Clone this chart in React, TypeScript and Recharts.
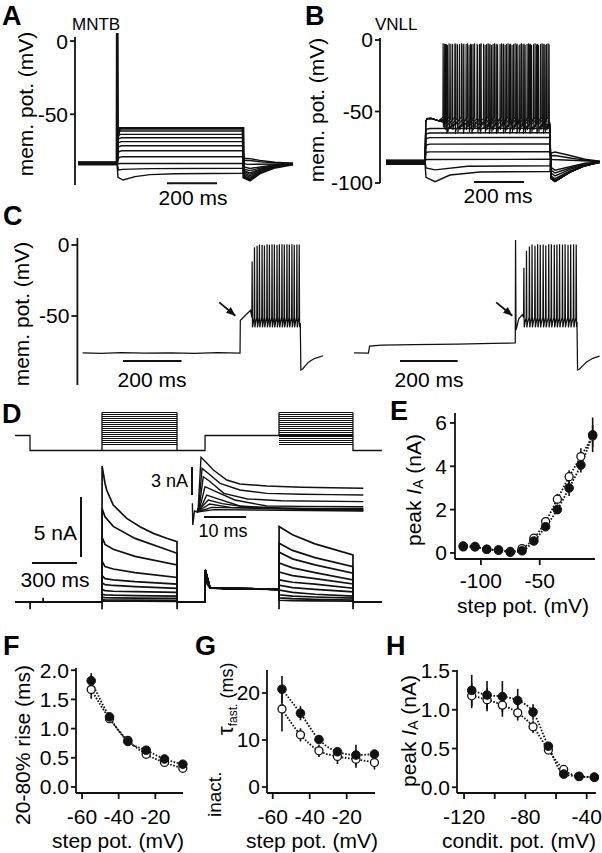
import React from 'react';
import { LineChart, Line, XAxis, YAxis, ReferenceLine, ErrorBar } from 'recharts';

const FONT = '"Liberation Sans", Arial, Helvetica, sans-serif';
const INK = '#111';

type Pt = number[];

// ---------------- Panel A (MNTB): [time ms, mV]
const mntbTraces: Pt[][] = [
  [[12,-83.0],[168,-83.0],[169,5.5],[170.5,-66],[178,-59.6],[672,-59.6],[675,-93],[700,-95],[740,-90],[800,-86.2],[872,-84]],
  [[12,-83.6],[168,-83.6],[172,-62.5],[182,-61.4],[672,-61.4],[675,-92],[700,-94],[740,-89.5],[800,-86],[872,-83.8]],
  [[12,-84.2],[168,-84.2],[172,-64.5],[182,-63.7],[672,-63.7],[675,-91],[700,-93],[740,-89],[800,-85.6],[872,-84.2]],
  [[12,-82.8],[168,-82.8],[173,-67],[185,-66],[672,-66],[675,-90],[700,-92],[740,-88.5],[800,-85.4],[872,-83.5]],
  [[12,-83.4],[168,-83.4],[173,-69.5],[185,-68.7],[672,-68.7],[675,-89],[700,-91],[740,-88],[800,-85.2],[872,-83.9]],
  [[12,-84.5],[168,-84.5],[174,-72.2],[186,-71.5],[672,-71.5],[675,-88.5],[700,-90],[740,-87.5],[800,-85],[872,-84.4]],
  [[12,-83.2],[168,-83.2],[175,-75.5],[188,-74.9],[672,-74.9],[676,-87.5],[700,-88.5],[740,-86.8],[800,-84.8],[872,-83.6]],
  [[12,-83.8],[168,-83.8],[176,-79.4],[190,-79],[672,-79],[676,-86],[700,-87],[740,-86],[800,-84.6],[872,-83.8]],
  [[12,-84.0],[168,-84.0],[180,-83.6],[672,-83.5],[690,-84.2],[872,-84]],
  [[12,-83.0],[168,-83.0],[174,-88],[190,-87.6],[300,-87.1],[672,-86.9],[676,-81.5],[700,-81.6],[740,-82.4],[800,-83.2],[872,-83.6]],
  [[12,-83.6],[168,-83.6],[172,-93],[192,-94.9],[240,-92.6],[300,-91.2],[400,-90.6],[672,-90.3],[676,-80],[700,-80.3],[740,-81.5],[800,-82.8],[872,-83.4]],
];
const mntbScaleBar: Pt[] = [[368,-97.1],[568,-97.1]];

// ---------------- Panel B (VNLL)
const vnllTraces: Pt[][] = [
  [[24,-86],[180,-86],[184,-96],[220,-99.1],[280,-94.4],[400,-92.3],[680,-92],[684,-79],[700,-78.3],[760,-80.8],[820,-83.4],[880,-84.8]],
  [[24,-85],[180,-85],[184,-89.5],[220,-90.8],[350,-88.3],[680,-87.9],[684,-81],[700,-80.8],[760,-82.5],[820,-84],[880,-85.2]],
  [[24,-84.4],[180,-84.4],[186,-83.6],[680,-83.4],[690,-83.6],[880,-85]],
  [[24,-87],[180,-87],[184,-78.5],[200,-78.2],[680,-78.1],[684,-89],[700,-91],[760,-88.6],[820,-86.2],[880,-85.4]],
  [[24,-85.6],[180,-85.6],[184,-73.5],[200,-72.8],[680,-72.7],[684,-91],[700,-93],[760,-89.5],[820,-86.6],[880,-85.6]],
  [[24,-84],[180,-84],[184,-69],[200,-68.3],[680,-68.1],[684,-93],[700,-95],[760,-90.5],[820,-87],[880,-85.1]],
  [[24,-86.5],[180,-86.5],[184,-65.6],[200,-65],[680,-64.8],[684,-95],[700,-97],[760,-91.5],[820,-87.4],[880,-85.8]],
  [[24,-85.3],[180,-85.3],[184,-62.4],[200,-61.9],[680,-61.7],[684,-96],[700,-98],[760,-92],[820,-87.8],[880,-85.3]],
];
const vnllSpikeTimes: number[][] = [
  [252,276,300,326,350,378,404,432,458,486,512,540,566,594,620,648,672],
  [262,290,318,344,372,398,426,452,480,506,534,560,588,614,642,666],
  [270,310,356,390,420,446,470,500,528,556,580,606,634,660],
  [257,283,308,335,362,388,414,440,468,494,522,548,576,602,630,656],
  [266,300,332,366,400,436,464,492,518,546,572,598,626,652,676],
];
const vnllSpikePeak = [-2.3, -2.8, -3.5, -2.6, -3.0];
const vnllSpikeTrough = [-58, -60, -61.5, -59, -62.5];
const vnllRest = [-85.8, -84.6, -86.2, -84.2, -86.8];
const vnllScaleBar: Pt[] = [[376,-99.3],[576,-99.3]];

// ---------------- Panel C
const cLeftPre: Pt[] = [[18,-76],[80,-76.3],[150,-75.8],[230,-76.2],[320,-75.9],[400,-76.3],[480,-75.8],[556,-76.1],[557,-53],[560,-52.5],[592,-46]];
const cLeftSpikeTimes = [597,605,614,622,631,639,648,656,665,673,682,690,699,707,716,724,733,741,750,758];
const cLeftSpikePeaks = [-11.7,-1.5,-0.5,0.3,0,-0.4,0.5,0.2,0.6,0.4,0,0.5,0.6,0.3,0.5,0.4,0.6,0.2,0.4,0.3];
const cLeftPost: Pt[] = [[762,-55],[764,-88],[770,-87.3],[790,-82.5],[810,-80],[840,-78]];
const cRightPre: Pt[] = [[946,-76],[995,-76.2],[999,-71.2],[1040,-70.6],[1150,-70.2],[1300,-69.8],[1420,-69.3],[1497,-69],[1498,3.5],[1499.5,-60],[1509,-52],[1521,-49]];
const cRightSpikeTimes = [1526,1535,1545,1554,1564,1573,1582,1592,1601,1611,1620,1630,1639,1648,1658,1667,1677,1686,1696,1705];
const cRightSpikePeaks = [-16,-4,-1,0.3,-0.5,0.5,0.2,0.4,-0.3,0.5,0.6,0.2,0.4,0.5,0.3,0.6,0.2,0.4,0.5,0.3];
const cRightPost: Pt[] = [[1708,-55],[1710,-88],[1716,-87.5],[1740,-82.5],[1762,-79.8],[1785,-78.3]];
const cScaleBars: Pt[][] = [[[156,-81.7],[356,-81.7]], [[1103,-81.7],[1300,-81.7]]];
const cArrows: Pt[][] = [[[485,-40.4],[540,-49.8]], [[1432,-40.4],[1487,-49.8]]];

// ---------------- Panel D : protocol (mV), currents (nA)
const dStepLevels = [-85,-80,-75,-70,-65,-60,-55,-50,-45,-40,-35,-30,-25,-20,-15,-10,-5];
const dHold = -100;
const dCond = -62.5;
const dTimes = [0, 100, 580, 1080, 1267, 1760, 2253, 2446];
const dCurrentBig: Pt[] = [[0,0],[100,0],[100.5,-0.6],[101,0],[187,0],[187.5,0.35],[188,0],[580,0],[580.2,-0.6],[580.6,11.33],[600,9.9],[611,9.33],[655,8.08],[745,6.97],[833,6.28],[922,5.72],[1011,5.31],[1080,5.03],[1080.5,-0.6],[1082,0],[1267,0],[1268,2.67],[1280,1.5],[1300,1.17],[1400,1.08],[1760,1.06],[1760.3,-0.6],[1760.6,6.3],[1850,5.6],[2000,4.85],[2253,3.92],[2253.5,-0.6],[2255,0],[2446,0]];
// block 1 values at t = 580.6, 600, 655, 800, 1080 ; block 2 at 1760.6, 1850, 2000, 2253
const dBlock1: number[][] = [
  [7.8,7.1,6.3,5.3,4.06],[5.4,4.8,4.4,3.8,3.1],[3.4,2.95,2.75,2.45,2.05],[2.2,1.95,1.85,1.7,1.5],
  [1.6,1.45,1.38,1.28,1.14],[1.05,0.95,0.9,0.86,0.8],[0.65,0.6,0.57,0.54,0.5],[0.4,0.37,0.35,0.33,0.3],
  [0.2,0.18,0.17,0.16,0.15],[0.09,0.08,0.08,0.07,0.06],
];
const dBlock2: number[][] = [
  [4.9,4.3,3.7,2.95],[4.15,3.6,3.1,2.4],[3.25,2.85,2.45,1.85],[2.5,2.2,1.95,1.5],
  [1.85,1.65,1.5,1.15],[1.4,1.2,1.05,0.85],[1.0,0.8,0.65,0.5],[0.6,0.5,0.42,0.33],
  [0.35,0.28,0.22,0.17],[0.15,0.12,0.1,0.08],
];
const dScale5nA: Pt[] = [[440,3.75],[440,8.75]];
const dScale300ms: Pt[] = [[113,3.25],[413,3.25]];
// inset (ms, nA)
const insetTraces: Pt[][] = [
  [[0,0],[0.3,0.5],[0.95,5.86],[2,5.4],[3.9,4.5],[7.1,3.43],[10.2,3.0],[16.6,2.79],[25,2.65],[32,2.6],[39.6,2.54]],
  [[0,0],[0.4,0.5],[1.2,4.68],[2.5,4.2],[5.5,3.07],[10.2,2.36],[16.6,2.0],[25,1.9],[32,1.86],[39.6,1.82]],
  [[0,0],[0.5,0.4],[1.5,3.79],[3,3.3],[6.4,2.0],[12,1.4],[20,1.2],[39.6,1.11]],
  [[0,0],[0.6,0.3],[1.9,2.71],[4,2.3],[9,1.29],[16.6,0.64],[25,0.6],[39.6,0.57]],
  [[0,0],[0.7,0.2],[2.3,1.82],[5,1.4],[10.2,0.64],[20,0.42],[39.6,0.39]],
  [[0,0],[2.7,1.29],[6,0.9],[13,0.45],[39.6,0.29]],
  [[0,0],[3,0.86],[8,0.5],[39.6,0.21]],
  [[0,0],[3.5,0.5],[39.6,0.15]],
  [[0,0],[4,0.25],[39.6,0.1]],
  [[-1.1,0.93],[-1.0,-1.39],[-0.6,0.1],[0,0]],
];
const inset3nA: Pt[] = [[-1.19,1.82],[-1.19,4.82]];
const inset10ms: Pt[] = [[1.67,-0.54],[11.67,-0.54]];

// ---------------- Panel E
const eStep = [-115,-105,-95,-85,-75,-65,-55,-45,-35,-25,-15,-5];
const eFilled = [0.32,0.30,0.17,0.14,0.03,0.10,0.55,1.21,2.00,3.00,4.06,5.45];
const eFilledErr = [0.05,0.05,0.05,0.05,0.04,0.05,0.1,0.15,0.2,0.37,0.35,0.8];
const eOpen = [0.28,0.27,0.16,0.12,0.07,0.2,0.68,1.45,2.48,3.52,4.45,5.4];
const eOpenErr = [0.05,0.05,0.05,0.05,0.05,0.05,0.1,0.15,0.25,0.3,0.38,0.5];

// ---------------- Panel F
const fStep = [-55,-45,-35,-25,-15,-5];
const fFilled = [1.82,1.2,0.78,0.63,0.48,0.39];
const fFilledErr = [0.13,0.08,0.04,0.03,0.03,0.02];
const fOpen = [1.67,1.17,0.8,0.56,0.42,0.32];
const fOpenErr = [0.16,0.06,0.05,0.03,0.03,0.02];

// ---------------- Panel G
const gStep = [-55,-45,-35,-25,-15,-5];
const gFilled = [20.8,15.7,10.1,7.5,6.8,7.0];
const gFilledErr = [2.8,1.5,0.8,0.7,2.2,0.9];
const gOpen = [16.6,11.1,7.7,6.5,5.9,5.2];
const gOpenErr = [4.8,1.4,1.3,1.6,1.8,1.5];

// ---------------- Panel H
const hCond = [-115,-105,-95,-85,-75,-65,-55,-45,-35];
const hFilled = [1.25,1.19,1.17,1.12,0.97,0.53,0.17,0.14,0.13];
const hFilledErr = [0.2,0.18,0.2,0.15,0.1,0.04,0.03,0.03,0.03];
const hOpen = [1.18,1.13,1.06,0.96,0.78,0.48,0.23,0.14,0.13];
const hOpenErr = [0.16,0.15,0.15,0.1,0.08,0.04,0.03,0.03,0.03];

// ============ helpers ============
const obj = (pts: Pt[]) => pts.map(([t, v]) => ({ t, v }));

function spikeTrain(times: number[], peaks: number[], trough: number): Pt[] {
  const out: Pt[] = [];
  times.forEach((ts, i) => {
    out.push([ts - 0.6, trough + 4], [ts + 0.4, peaks[i]], [ts + 1.6, trough - 3], [ts + 4, trough]);
  });
  return out;
}

function lines(list: Pt[][], prefix: string, width = 1.2, widths?: number[], crisp = false) {
  return list.map((pts, i) => (
    <Line key={prefix + i} data={obj(pts)} dataKey="v" type="linear" stroke={INK}
      strokeWidth={widths && widths[i] != null ? widths[i] : width} dot={false} activeDot={false}
      shapeRendering={crisp ? 'crispEdges' : undefined}
      isAnimationActive={false} />
  ));
}

const tickStyle = { fontSize: 21, fill: '#000', fontFamily: FONT };
const axisStyle = { stroke: INK, strokeWidth: 1.8 };

const Box: React.FC<{ left: number; top: number; children: React.ReactNode }> = ({ left, top, children }) => (
  <div style={{ position: 'absolute', left, top, fontFamily: FONT }}>{children}</div>
);

// arrow head drawn at the end point of arrow series
const arrowDot = (p: any) => {
  if (p.index !== 1) return <g key={'a' + p.index} />;
  const ang = Math.atan2(13.4, 16.1);
  const L = 9, W = 3.8;
  const bx = p.cx - L * Math.cos(ang), by = p.cy - L * Math.sin(ang);
  const nx = -Math.sin(ang) * W, ny = Math.cos(ang) * W;
  return <polygon key={'a' + p.index} points={`${p.cx},${p.cy} ${bx + nx},${by + ny} ${bx - nx},${by - ny}`} fill={INK} />;
};

const filledDot = (p: any) => <circle key={'f' + p.index} cx={p.cx} cy={p.cy} r={4.3} fill={INK} stroke={INK} strokeWidth={1} />;
const openDot = (p: any) => <circle key={'o' + p.index} cx={p.cx} cy={p.cy} r={4} fill="#fff" stroke={INK} strokeWidth={1.3} />;

interface DotPanelProps {
  left: number; top: number; width: number; height: number;
  margin: { top: number; right: number; bottom: number; left: number };
  yWidth: number; xHeight: number;
  xDomain: number[]; yDomain: number[]; xTicks: number[]; yTicks: number[];
  xFmt?: (v: number) => string; yFmt?: (v: number) => string;
  xs: number[]; filled: number[]; filledErr: number[]; open: number[]; openErr: number[];
  xTickMargin: number; yTickMargin: number;
}

function DotPanel(p: DotPanelProps) {
  const fd = p.xs.map((x, i) => ({ t: x, v: p.filled[i], e: p.filledErr[i] }));
  const od = p.xs.map((x, i) => ({ t: x, v: p.open[i], e: p.openErr[i] }));
  return (
    <Box left={p.left} top={p.top}>
      <LineChart width={p.width} height={p.height} margin={p.margin}>
        <XAxis type="number" dataKey="t" domain={p.xDomain} ticks={p.xTicks} interval={0}
          tickFormatter={p.xFmt} height={p.xHeight} axisLine={axisStyle} tickLine={axisStyle}
          tickSize={6} tickMargin={p.xTickMargin} tick={tickStyle} />
        <YAxis type="number" domain={p.yDomain} ticks={p.yTicks} interval={0} tickFormatter={p.yFmt}
          width={p.yWidth} axisLine={axisStyle} tickLine={axisStyle} tickSize={5} tickMargin={p.yTickMargin}
          tick={tickStyle} />
        <Line data={od} dataKey="v" type="monotone" stroke={INK} strokeWidth={1.8} strokeDasharray="1.6 1.6"
          dot={openDot} activeDot={false} isAnimationActive={false}>
          <ErrorBar dataKey="e" width={0} stroke={INK} strokeWidth={1.6} direction="y" />
        </Line>
        <Line data={fd} dataKey="v" type="monotone" stroke={INK} strokeWidth={1.8} strokeDasharray="1.6 1.6"
          dot={filledDot} activeDot={false} isAnimationActive={false}>
          <ErrorBar dataKey="e" width={0} stroke={INK} strokeWidth={1.6} direction="y" />
        </Line>
      </LineChart>
    </Box>
  );
}

const Txt: React.FC<{ x: number; y: number; size?: number; anchor?: string; bold?: boolean; rot?: boolean; children: React.ReactNode }> =
  ({ x, y, size = 21, anchor = 'start', bold = false, rot = false, children }) => (
    <text x={x} y={y} fontSize={size} fontFamily={FONT} fontWeight={bold ? 'bold' : 'normal'} fill="#000"
      textAnchor={rot ? 'middle' : (anchor as any)} dominantBaseline={rot ? 'central' : 'auto'}
      transform={rot ? `rotate(-90 ${x} ${y})` : undefined}>{children}</text>
  );

export default function App() {
  // Panel B spiking traces
  const vnllSpiking: Pt[][] = vnllSpikeTimes.map((times, k) => [
    [24, vnllRest[k]], [180, vnllRest[k]], [183, -57], [188, -55], [205, -54.8], [235, -56.5],
    ...spikeTrain(times, times.map(() => vnllSpikePeak[k]), vnllSpikeTrough[k]),
    [680, vnllSpikeTrough[k]], [684, -97], [700, -99], [760, -92.5], [820, -88], [880, -85.5],
  ]);
  // Panel C traces
  const cLeft: Pt[] = [...cLeftPre, ...spikeTrain(cLeftSpikeTimes, cLeftSpikePeaks, -55), ...cLeftPost];
  const cRight: Pt[] = [...cRightPre, ...spikeTrain(cRightSpikeTimes, cRightSpikePeaks, -55), ...cRightPost];
  // Panel D protocol
  const [t0, tPre, tB1, tE1, tCond, tB2, tE2, tEnd] = dTimes;
  const protoFrame: Pt[] = [
    [t0, dCond], [tPre, dCond], [tPre, dHold], [tB1, dHold], [tB1, -5], [tB1, dHold], [tE1, dHold], [tE1, -5], [tE1, dHold],
    [tCond, dHold], [tCond, dCond], [tB2, dCond], [tB2, -5], [tB2, dCond], [tE2, dCond], [tE2, -5], [tE2, dHold], [tEnd, dHold],
  ];
  const protoSteps: Pt[][] = dStepLevels.flatMap((s) => [[[tB1, s], [tE1, s]], [[tB2, s], [tE2, s]]]);
  const currents: Pt[][] = [dCurrentBig, ...dBlock1.map((b1, i) => {
    const b2 = dBlock2[i];
    return [[0,0],[580,0],[580.6,b1[0]],[600,b1[1]],[655,b1[2]],[800,b1[3]],[1080,b1[4]],[1081,0],[1267,0],
      [1268,2.67],[1300,1.17],[1760,1.06],[1760.6,b2[0]],[1850,b2[1]],[2000,b2[2]],[2253,b2[3]],[2254,0],[2446,0]];
  })];

  return (
    <div style={{ position: 'absolute', left: 0, top: 0, width: 602, height: 853, background: '#fff', overflow: 'hidden' }}>
      {/* A */}
      <Box left={0} top={0}>
        <LineChart width={300} height={200} margin={{ top: 33, right: 5, bottom: 15, left: 0 }}>
          <XAxis type="number" dataKey="t" domain={[0, 880]} hide />
          <YAxis type="number" domain={[-98.3, 5.5]} ticks={[0, -50]} interval={0} width={75} axisLine={false}
            tickLine={axisStyle} tickSize={5} tickMargin={2} tick={tickStyle} />
          <ReferenceLine segment={[{ x: 0, y: -98.3 }, { x: 0, y: 2.7 }]} stroke={INK} strokeWidth={1.8} />
          {lines(mntbTraces, 'a', 1.4, [2.8])}
          {lines([mntbScaleBar], 'asb', 2)}
        </LineChart>
      </Box>
      {/* B */}
      <Box left={300} top={0}>
        <LineChart width={302} height={200} margin={{ top: 38, right: 2, bottom: 17, left: 0 }}>
          <XAxis type="number" dataKey="t" domain={[0, 880]} hide />
          <YAxis type="number" domain={[-100, 1.4]} ticks={[0, -50, -100]} interval={0} width={80}
            axisLine={axisStyle} tickLine={axisStyle} tickSize={5} tickMargin={2} tick={tickStyle} />
          {lines(vnllTraces, 'b', 1.4)}
          {lines(vnllSpiking, 'bs', 1.15)}
          {lines([vnllScaleBar], 'bsb', 2)}
        </LineChart>
      </Box>
      {/* C */}
      <Box left={0} top={230}>
        <LineChart width={602} height={160} margin={{ top: 8, right: 2, bottom: 5, left: 0 }}>
          <XAxis type="number" dataKey="t" domain={[0, 1786.7]} hide />
          <YAxis type="number" domain={[-98.6, 4.93]} ticks={[0, -50]} interval={0} width={77.4}
            axisLine={axisStyle} tickLine={axisStyle} tickSize={6} tickMargin={2} tick={tickStyle} />
          {lines([cLeft, cRight], 'c', 1.25)}
          {lines(cScaleBars, 'csb', 2)}
          {cArrows.map((a, i) => (
            <Line key={'arr' + i} data={obj(a)} dataKey="v" type="linear" stroke={INK} strokeWidth={1.8}
              dot={arrowDot} activeDot={false} isAnimationActive={false} />
          ))}
        </LineChart>
      </Box>
      {/* D protocol */}
      <Box left={0} top={400}>
        <LineChart width={400} height={60} margin={{ top: 5.5, right: 18, bottom: 4.5, left: 15 }}>
          <XAxis type="number" dataKey="t" domain={[0, 2446.7]} hide />
          <YAxis type="number" domain={[-112.5, 12.5]} hide />
          {lines([protoFrame], 'pf', 1.3)}
          {lines(protoSteps, 'ps', 1, undefined, true)}
        </LineChart>
      </Box>
      {/* D currents */}
      <Box left={0} top={450}>
        <LineChart width={400} height={165} margin={{ top: 5, right: 18, bottom: 3, left: 15 }}>
          <XAxis type="number" dataKey="t" domain={[0, 2446.7]} hide />
          <YAxis type="number" domain={[-0.83, 12.25]} hide />
          {lines(currents, 'd', 1.7)}
          {lines([dScale5nA, dScale300ms], 'dsb', 2)}
        </LineChart>
      </Box>
      {/* D inset */}
      <Box left={185} top={445}>
        <LineChart width={185} height={90} margin={{ top: 5, right: 5, bottom: 5, left: 5 }}>
          <XAxis type="number" dataKey="t" domain={[-1.667, 40]} hide />
          <YAxis type="number" domain={[-1.929, 6.645]} hide />
          {lines(insetTraces, 'i', 1.4)}
          {lines([inset3nA, inset10ms], 'isb', 2)}
        </LineChart>
      </Box>
      {/* E */}
      <DotPanel left={395} top={395} width={207} height={230} margin={{ top: 18, right: 7, bottom: 16, left: 0 }}
        yWidth={60} xHeight={50} xDomain={[-122, -3]} yDomain={[-0.28, 6.46]} xTicks={[-100, -50]} yTicks={[0, 2, 4, 6]}
        xs={eStep} filled={eFilled} filledErr={eFilledErr} open={eOpen} openErr={eOpenErr} xTickMargin={8} yTickMargin={3} />
      {/* F */}
      <DotPanel left={0} top={660} width={190} height={193} margin={{ top: 8, right: 7, bottom: 0, left: 0 }}
        yWidth={76} xHeight={60} xDomain={[-63.3, -4.9]} yDomain={[-0.103, 2.038]} xTicks={[-60, -40, -20]}
        yTicks={[0, 0.5, 1, 1.5, 2]} yFmt={(v) => v.toFixed(1)}
        xs={fStep} filled={fFilled} filledErr={fFilledErr} open={fOpen} openErr={fOpenErr} xTickMargin={10} yTickMargin={2} />
      {/* G */}
      <DotPanel left={190} top={660} width={200} height={193} margin={{ top: 10, right: 15, bottom: 0, left: 0 }}
        yWidth={77} xHeight={60} xDomain={[-63.1, -4.7]} yDomain={[-1.28, 24.9]} xTicks={[-60, -40, -20]}
        yTicks={[0, 10, 20]}
        xs={gStep} filled={gFilled} filledErr={gFilledErr} open={gOpen} openErr={gOpenErr} xTickMargin={10} yTickMargin={2} />
      {/* H */}
      <DotPanel left={390} top={660} width={212} height={193} margin={{ top: 10, right: 6.1, bottom: 0, left: 0 }}
        yWidth={67} xHeight={60} xDomain={[-124.6, -34]} yDomain={[-0.074, 1.513]} xTicks={[-120, -100, -80, -60, -40]}
        xFmt={(v) => (v === -100 || v === -60 ? '' : String(v))}
        yTicks={[0, 0.5, 1, 1.5]} yFmt={(v) => v.toFixed(1)}
        xs={hCond} filled={hFilled} filledErr={hFilledErr} open={hOpen} openErr={hOpenErr} xTickMargin={10} yTickMargin={2} />

      {/* text overlay */}
      <svg width={602} height={853} style={{ position: 'absolute', left: 0, top: 0, pointerEvents: 'none' }}>
        <Txt x={2} y={25} size={27} bold>A</Txt>
        <Txt x={305} y={25} size={27} bold>B</Txt>
        <Txt x={3} y={225} size={27} bold>C</Txt>
        <Txt x={2} y={423} size={27} bold>D</Txt>
        <Txt x={390} y={420} size={27} bold>E</Txt>
        <Txt x={3} y={655} size={27} bold>F</Txt>
        <Txt x={195} y={655} size={27} bold>G</Txt>
        <Txt x={386} y={655} size={27} bold>H</Txt>

        <Txt x={72} y={30} size={17}>MNTB</Txt>
        <Txt x={375} y={30} size={17}>VNLL</Txt>

        <Txt x={25} y={104} rot>mem. pot. (mV)</Txt>
        <Txt x={316} y={110} rot>mem. pot. (mV)</Txt>
        <Txt x={21} y={314} rot>mem. pot. (mV)</Txt>

        <Txt x={193} y={205} anchor="middle">200 ms</Txt>
        <Txt x={498} y={203} anchor="middle">200 ms</Txt>
        <Txt x={152} y={387} anchor="middle">200 ms</Txt>
        <Txt x={429} y={387} anchor="middle">200 ms</Txt>

        <Txt x={77} y={540} anchor="end">5 nA</Txt>
        <Txt x={55} y={587} anchor="middle">300 ms</Txt>
        <Txt x={188} y={487} size={18} anchor="end">3 nA</Txt>
        <Txt x={223} y={537} size={18} anchor="middle">10 ms</Txt>

        <text x={413} y={490} fontSize={21} fontFamily={FONT} textAnchor="middle" dominantBaseline="central"
          transform="rotate(-90 413 490)">peak <tspan fontStyle="italic">I</tspan><tspan fontSize={14} dy={5}>A</tspan><tspan dy={-5}> (nA)</tspan></text>
        <Txt x={523} y={613} anchor="middle">step pot. (mV)</Txt>

        <Txt x={22} y={745} rot>20-80% rise (ms)</Txt>
        <Txt x={118} y={848} anchor="middle">step pot. (mV)</Txt>

        <text x={221} y={817} fontSize={19} fontFamily={FONT} transform="rotate(-90 221 817)">inact.</text>
        <text x={233} y={735} fontSize={18} fontFamily={FONT} transform="rotate(-90 233 735)"><tspan fontSize={22}>τ</tspan><tspan fontSize={12} dy={4}>fast.</tspan><tspan dy={-4}> (ms)</tspan></text>
        <Txt x={312} y={848} anchor="middle">step pot. (mV)</Txt>

        <text x={408} y={731} fontSize={21} fontFamily={FONT} textAnchor="middle" dominantBaseline="central"
          transform="rotate(-90 408 731)">peak <tspan fontStyle="italic">I</tspan><tspan fontSize={14} dy={5}>A</tspan><tspan dy={-5}> (nA)</tspan></text>
        <Txt x={519} y={848} anchor="middle">condit. pot. (mV)</Txt>
      </svg>
    </div>
  );
}
